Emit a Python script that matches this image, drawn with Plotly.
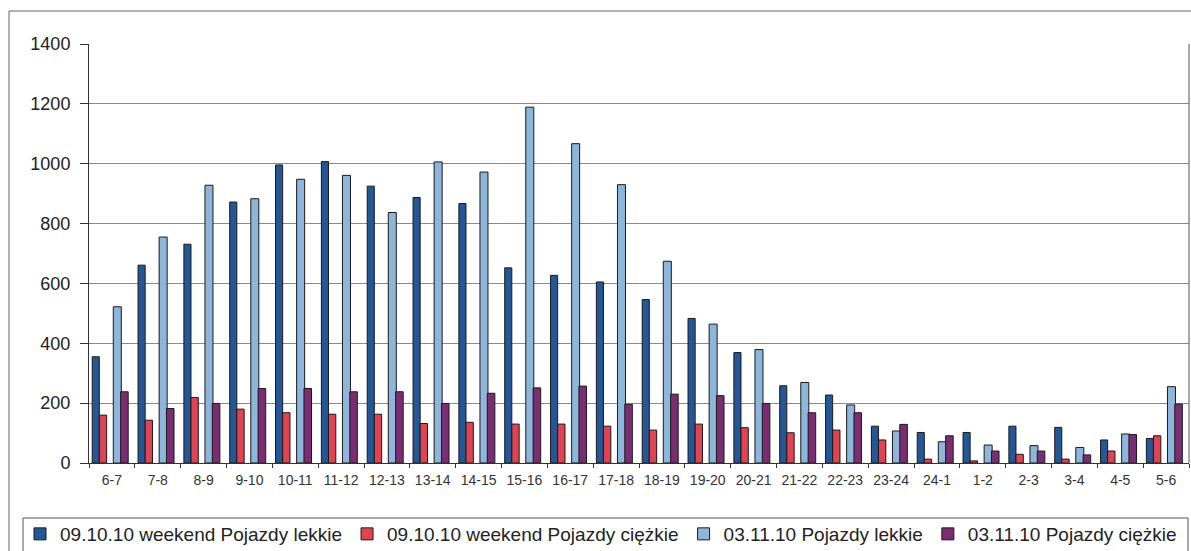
import plotly.graph_objects as go

categories = ["6-7", "7-8", "8-9", "9-10", "10-11", "11-12", "12-13", "13-14", "14-15",
              "15-16", "16-17", "17-18", "18-19", "19-20", "20-21", "21-22", "22-23",
              "23-24", "24-1", "1-2", "2-3", "3-4", "4-5", "5-6"]

weekend_light = [355, 661, 731, 872, 996, 1007, 925, 887, 867, 652, 627, 605, 546, 483,
                 369, 258, 227, 123, 102, 102, 123, 119, 77, 82]
weekend_heavy = [160, 143, 219, 180, 168, 163, 163, 132, 136, 130, 130, 123, 110, 130,
                 118, 101, 110, 77, 13, 7, 29, 13, 40, 91]
nov_light = [522, 755, 928, 883, 948, 961, 837, 1006, 972, 1189, 1067, 930, 674, 464,
             379, 269, 194, 107, 71, 60, 58, 52, 97, 255]
nov_heavy = [238, 182, 199, 249, 249, 238, 238, 199, 233, 251, 257, 196, 230, 225,
             199, 168, 168, 129, 91, 40, 40, 27, 95, 197]

series_names = ["09.10.10 weekend Pojazdy lekkie", "09.10.10 weekend Pojazdy ciężkie",
                "03.11.10 Pojazdy lekkie", "03.11.10 Pojazdy ciężkie"]
series_values = [weekend_light, weekend_heavy, nov_light, nov_heavy]
colors = ["#255796", "#e04452", "#8db6da", "#7b2d72"]
offsets = [-0.43, -0.275, 0.03, 0.19]
widths = [0.155, 0.16, 0.175, 0.165]

fig = go.Figure()
for name, vals, col, off, w in zip(series_names, series_values, colors, offsets, widths):
    fig.add_trace(go.Bar(
        x=categories, y=vals, name=name,
        marker=dict(color=col, line=dict(color="#1a1a1a", width=1)),
        offset=off, width=w,
    ))

W, H = 1191, 551
ml, mr, mt, mb = 89, 2, 44, 88
pw = W - ml - mr
ph = H - mt - mb


def px_x(px):
    return (px - ml) / pw


def px_y(py):
    return (H - mb - py) / ph


shapes = [
    # outer chart border (top and left)
    dict(type="line", xref="paper", yref="paper", x0=px_x(9), x1=px_x(1191), y0=px_y(11), y1=px_y(11),
         line=dict(color="#666", width=1)),
    dict(type="line", xref="paper", yref="paper", x0=px_x(9), x1=px_x(9), y0=px_y(11), y1=px_y(551),
         line=dict(color="#666", width=1)),
    # plot area right border
    dict(type="line", xref="paper", yref="paper", x0=1, x1=1, y0=0, y1=1,
         line=dict(color="#555", width=1)),
    # legend box
    dict(type="rect", xref="paper", yref="paper", x0=px_x(23), x1=px_x(1188), y0=px_y(518), y1=px_y(560),
         line=dict(color="#555", width=1), fillcolor="rgba(0,0,0,0)"),
]

fig.update_layout(
    width=W, height=H,
    margin=dict(l=ml, r=mr, t=mt, b=mb, autoexpand=False),
    paper_bgcolor="white", plot_bgcolor="white",
    barmode="overlay",
    font=dict(family="Arial, Liberation Sans, sans-serif", color="#222"),
    showlegend=True,
    legend=dict(orientation="h", xref="paper", x=px_x(20), xanchor="left",
                yref="paper", y=px_y(515), yanchor="top",
                font=dict(size=19, color="#222"), bgcolor="rgba(0,0,0,0)",
                itemwidth=30, tracegroupgap=0),
    shapes=shapes,
    xaxis=dict(type="category", showgrid=False, showline=True, linecolor="#333", linewidth=1,
               ticks="outside", ticklen=4, tickcolor="#333", tickson="boundaries",
               ticklabelstandoff=4,
               tickfont=dict(size=14, color="#333"), range=[-0.5, 23.5]),
    yaxis=dict(range=[0, 1400], dtick=200, showgrid=True, gridcolor="#8a8a8a", gridwidth=1,
               showline=True, linecolor="#333", linewidth=1, ticks="outside", ticklen=8,
               ticklabelstandoff=6,
               tickcolor="#333", tickfont=dict(size=18, color="#222"), zeroline=False),
)

fig.write_html("out.html")
